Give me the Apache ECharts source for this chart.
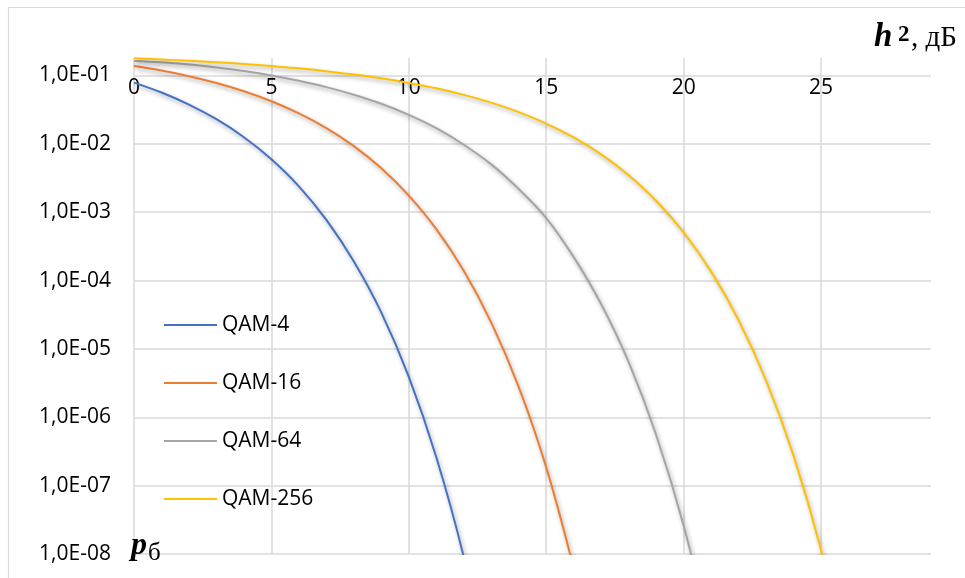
<!DOCTYPE html>
<html>
<head>
<meta charset="utf-8">
<script src="https://cdn.jsdelivr.net/npm/echarts@6/dist/echarts.min.js"></script>
<style>
  html, body { margin: 0; padding: 0; background: #fff; }
  #chart { width: 965px; height: 578px; }
</style>
</head>
<body>
<div id="chart"></div>
<script>
// Signal-to-noise ratio h², dB (one entry per sample)
const snrDb = [0, 1, 2, 3, 4, 5, 6, 7, 8, 9, 10, 11, 12, 13, 14, 15, 16, 17, 18, 19, 20, 21, 22, 23, 24, 25, 26];

// Bit error probability for each modulation
const qam4   = [0.0786, 0.0563, 0.0375, 0.0229, 0.0125, 0.00595, 0.00239, 7.7e-4, 1.9e-4, 3.4e-5, 3.9e-6, 2.6e-7, 9.0e-9, 1.3e-10];
const qam16  = [0.137, 0.118, 0.0976, 0.0774, 0.0586, 0.0419, 0.0279, 0.0170, 0.00925, 0.00439, 0.00175, 5.65e-4, 1.39e-4, 2.42e-5, 2.76e-6, 1.85e-7, 6.2e-9];
const qam64  = [0.163, 0.156, 0.145, 0.131, 0.116, 0.100, 0.0835, 0.0675, 0.0523, 0.0385, 0.0265, 0.0169, 0.0097, 0.0050, 0.00218, 8.2e-4, 2.2e-4, 4.5e-5, 6.4e-6, 5.5e-7, 2.6e-8, 5.8e-10];
const qam256 = [0.178, 0.171, 0.164, 0.156, 0.147, 0.137, 0.127, 0.115, 0.103, 0.0908, 0.0778, 0.0648, 0.0520, 0.0400, 0.0291, 0.0198, 0.0124, 0.0070, 0.00347, 0.00147, 5.05e-4, 1.35e-4, 2.63e-5, 3.44e-6, 2.72e-7, 1.14e-8, 2.2e-10];

const seriesNames = ['QAM-4', 'QAM-16', 'QAM-64', 'QAM-256'];
const seriesColors = ['#4472C4', '#ED7D31', '#A5A5A5', '#FFC000'];

// Tick labels of the logarithmic axis, indexed by decade (10^-1 … 10^-8)
const yTickLabels = ['1,0E-01', '1,0E-02', '1,0E-03', '1,0E-04', '1,0E-05', '1,0E-06', '1,0E-07', '1,0E-08'];

const FONT = '"Open Sans", "Noto Sans", sans-serif';
const SERIF = '"Liberation Serif", "DejaVu Serif", serif';

function pairs(values) {
  return values.map((v, i) => [snrDb[i], v]);
}

const chart = echarts.init(document.getElementById('chart'), null, { renderer: 'canvas' });

const lineSeries = [qam4, qam16, qam64, qam256].map((vals, i) => ({
  name: seriesNames[i],
  type: 'line',
  data: pairs(vals),
  symbol: 'none',
  smooth: 0.35,
  clip: true,
  color: seriesColors[i],
  lineStyle: {
    width: 2,
    color: seriesColors[i],
    shadowColor: 'rgba(0,0,0,0.35)',
    shadowBlur: 4,
    shadowOffsetX: 1.5,
    shadowOffsetY: 2.5
  },
  emphasis: { disabled: true },
  z: 3
}));

chart.setOption({
  animation: false,
  backgroundColor: '#ffffff',
  grid: { left: 134, top: 58, right: 34, bottom: 24, containLabel: false },
  legend: {
    orient: 'vertical',
    left: 159,
    top: 308,
    itemWidth: 53,
    itemHeight: 24,
    itemGap: 34,
    icon: 'path://M0,11 L53,11 L53,13 L0,13 Z',
    textStyle: { fontFamily: FONT, fontSize: 21, color: '#000', lineHeight: 24 },
    data: seriesNames.map((n, i) => ({ name: n, itemStyle: { color: seriesColors[i] } }))
  },
  xAxis: {
    type: 'value',
    position: 'top',
    min: 0,
    max: 29,
    interval: 5,
    axisLine: { show: false },
    axisTick: { show: false },
    axisLabel: {
      inside: true,
      margin: 20,
      showMaxLabel: false,
      fontFamily: FONT,
      fontSize: 21,
      color: '#000'
    },
    splitLine: { show: true, showMaxLine: false, lineStyle: { color: '#d9d9d9', width: 1.5 } }
  },
  yAxis: {
    type: 'log',
    logBase: 10,
    min: 1e-8,
    max: 0.18,
    axisLine: { show: false },
    axisTick: { show: false },
    axisLabel: {
      margin: 23,
      showMaxLabel: false,
      fontFamily: FONT,
      fontSize: 21,
      color: '#000',
      formatter: function (v) {
        const e = Math.log10(v);
        const k = Math.round(e);
        if (Math.abs(e - k) > 1e-6 || k > -1 || k < -8) return '';
        return yTickLabels[-k - 1];
      }
    },
    splitLine: { show: true, showMaxLine: false, lineStyle: { color: '#d9d9d9', width: 1.5 } }
  },
  graphic: [
    {
      type: 'rect',
      silent: true,
      shape: { x: 8.5, y: 7.5, width: 1000, height: 700 },
      style: { fill: 'none', stroke: '#d9d9d9', lineWidth: 1.2 },
      z: -1
    },
    // axis title h², дБ
    { type: 'text', left: 874, top: 21, style: { text: 'h', font: 'italic bold 33px ' + SERIF, fill: '#000' }, z: 10 },
    { type: 'text', left: 898, top: 24, style: { text: '2', font: 'bold 23px ' + SERIF, fill: '#000' }, z: 10 },
    { type: 'text', left: 911, top: 24, style: { text: ', дБ', font: '29px ' + SERIF, fill: '#000' }, z: 10 },
    // axis title p_б
    { type: 'text', left: 131, top: 530, style: { text: 'p', font: 'italic bold 32px ' + SERIF, fill: '#000' }, z: 10 },
    { type: 'text', left: 148, top: 541, style: { text: 'б', font: '25px ' + SERIF, fill: '#000' }, z: 10 }
  ],
  series: lineSeries
});
</script>
</body>
</html>
